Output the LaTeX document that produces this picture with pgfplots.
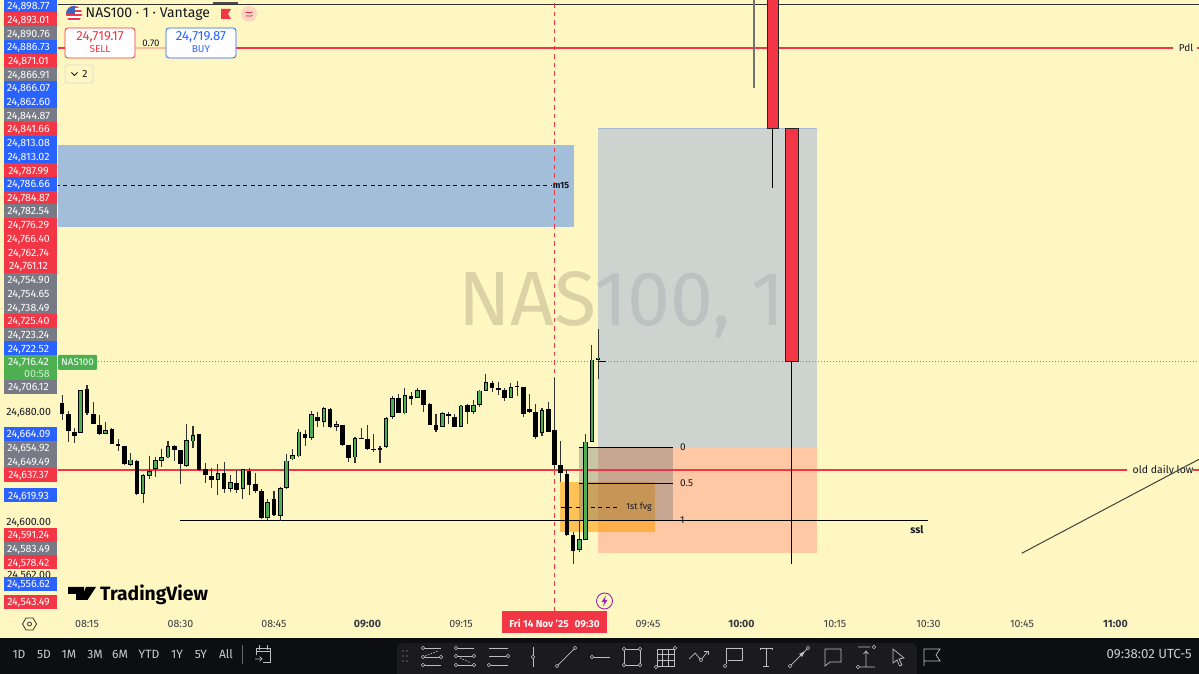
\documentclass[border=0pt]{standalone}
\usepackage{fontspec}
\usepackage{pgfplots}
\usepackage{pgfplotstable}
\pgfplotsset{compat=1.18}
\setmainfont{Fira Sans}

\definecolor{paper}{HTML}{FFF7C1}
\definecolor{tvred}{HTML}{F23645}
\definecolor{tvblue}{HTML}{2962FF}
\definecolor{tvgray}{HTML}{787B86}
\definecolor{tvgreen}{HTML}{4CAF50}
\definecolor{dotgreen}{HTML}{22C04A}
\definecolor{ink}{HTML}{131722}
\definecolor{barblack}{HTML}{0D0E10}
\definecolor{toolbar}{HTML}{1B1B1D}
\definecolor{iconc}{HTML}{BEBEBE}
\definecolor{zoneblue}{HTML}{A3BED8}
\definecolor{posgray}{HTML}{9DB2E0}
\definecolor{posorange}{HTML}{FF9B89}
\definecolor{postop}{HTML}{AAB9D2}
\definecolor{fvg}{HTML}{FF9800}
\definecolor{fibgray}{HTML}{5F6A70}
\definecolor{flagblue}{HTML}{3C64BE}
\definecolor{pinkc}{HTML}{FCD8C4}
\definecolor{spreadl}{HTML}{FABEA0}
\definecolor{purp}{HTML}{9C27B0}

% t = minutes since midnight, prices
\pgfplotstableread{
t o h l c
491 24686.1 24692.1 24673.9 24678.1
492 24678.3 24680.7 24658.2 24665.9
493 24665.5 24667.9 24657.0 24662.5
495 24696.2 24699.4 24677.6 24678.8
496 24678.3 24687.0 24670.8 24671.0
497 24670.5 24677.6 24663.0 24664.0
499 24667.4 24667.9 24656.2 24656.2
500 24656.5 24659.9 24651.6 24655.3
501 24654.8 24655.3 24641.5 24641.7
503 24644.4 24644.6 24619.2 24620.4
509 24654.8 24655.8 24643.9 24651.9
510 24651.9 24652.1 24627.4 24641.7
513 24663.5 24663.8 24637.1 24637.6
514 24638.1 24642.4 24627.9 24633.9
515 24633.5 24639.3 24624.2 24630.1
517 24635.4 24643.2 24621.1 24623.5
519 24628.4 24637.6 24621.1 24623.0
521 24636.9 24638.8 24619.6 24626.7
522 24627.2 24635.2 24621.1 24622.3
523 24622.6 24623.5 24602.2 24602.7
525 24616.2 24622.6 24604.1 24605.1
530 24663.5 24666.7 24655.0 24660.9
532 24676.1 24679.8 24669.1 24673.0
534 24681.9 24682.7 24667.9 24668.6
536 24670.3 24670.5 24655.0 24655.8
537 24655.5 24656.0 24643.6 24646.5
539 24661.1 24668.1 24659.9 24660.4
540 24660.4 24670.1 24652.1 24652.6
541 24652.9 24663.8 24650.7 24652.1
542 24653.3 24654.8 24642.9 24652.4
545 24690.0 24692.9 24679.3 24679.3
547 24691.7 24694.1 24684.9 24689.5
549 24695.5 24695.8 24680.0 24685.1
550 24685.4 24686.6 24670.3 24670.3
551 24670.6 24678.3 24665.5 24666.9
553 24678.3 24679.8 24670.8 24676.6
554 24676.4 24678.3 24669.1 24669.1
556 24684.6 24685.6 24670.8 24679.8
560 24701.1 24702.1 24694.6 24697.2
561 24697.2 24701.4 24691.9 24695.8
562 24696.0 24697.5 24687.5 24690.2
564 24698.5 24702.1 24691.7 24697.7
565 24698.0 24698.2 24676.4 24678.3
566 24682.0 24692.6 24679.3 24679.8
567 24679.5 24685.4 24660.4 24661.4
569 24682.0 24687.3 24665.5 24665.5
570 24666.7 24704.3 24638.1 24641.5
571 24641.2 24658.7 24629.1 24635.2
572 24634.7 24637.6 24589.6 24590.1
573 24590.1 24592.8 24569.3 24579.0
}\downcandles

\pgfplotstableread{
t o h l c
494 24664.7 24695.8 24664.2 24695.8
498 24664.0 24672.5 24663.8 24666.7
502 24641.5 24649.7 24640.7 24645.1
504 24620.4 24634.7 24613.8 24633.9
505 24633.2 24647.8 24631.3 24636.9
506 24638.1 24646.8 24632.7 24644.9
507 24644.1 24652.6 24640.0 24646.8
508 24646.8 24658.7 24646.5 24655.0
511 24640.5 24670.8 24640.0 24659.6
512 24658.4 24669.6 24653.8 24662.8
516 24630.1 24641.7 24619.6 24635.2
518 24623.8 24633.9 24621.3 24628.9
520 24623.8 24638.1 24616.7 24638.1
524 24602.9 24616.2 24601.2 24614.3
526 24604.4 24625.5 24600.7 24624.7
527 24624.5 24649.2 24623.5 24644.4
528 24645.3 24652.9 24644.9 24648.2
529 24647.5 24667.2 24647.3 24665.5
531 24660.9 24680.2 24659.4 24678.1
533 24672.7 24683.2 24669.1 24682.7
535 24669.1 24673.2 24666.2 24670.8
538 24646.8 24661.3 24642.4 24660.9
543 24654.1 24675.9 24653.6 24675.6
544 24676.1 24691.4 24674.5 24689.7
546 24678.8 24697.0 24678.6 24692.1
548 24690.2 24697.0 24690.2 24695.5
552 24669.1 24680.0 24668.9 24678.8
555 24669.1 24684.9 24669.1 24684.4
557 24679.8 24688.5 24678.6 24684.6
558 24685.1 24695.5 24683.7 24695.3
559 24695.3 24707.2 24695.3 24701.8
563 24690.2 24701.1 24690.0 24697.7
568 24664.8 24682.5 24662.3 24681.2
574 24579.4 24601.3 24577.7 24587.4
575 24586.7 24663.8 24586.7 24658.2
576 24658.2 24728.5 24658.2 24717.9
577 24717.9 24739.9 24703.6 24719.3
}\upcandles

\pgfplotsset{
  vbar/.style 2 args={forget plot, draw=none, mark=none,
    error bars/y dir=minus, error bars/y explicit, error bars/error mark=none,
    error bars/error bar style={line width=#1, draw=#2, solid}},
}

\newcommand\fs[1]{\fontsize{#1}{#1}\selectfont}
\newcommand\lbl[3]{\fill[#3] (4,#1-7) rectangle (57,#1+7);
  \node[text=white,inner sep=0] at (28.5,#1+1) {\fs{10.6}#2};}

\begin{document}
\begin{tikzpicture}
\path[use as bounding box,clip] (0,0) rectangle (1199pt,674pt);
\fill[paper] (0,0) rectangle (1199pt,674pt);

\begin{axis}[
  at={(58pt,63pt)}, anchor=south west, scale only axis,
  width=1141pt, height=611pt,
  xmin=490.35, xmax=673.4, ymin=24535.05, ymax=24979.4,
  axis line style={draw=none}, major tick length=0pt,
  xtick={495,510,525,540,555,570,585,600,615,630,645,660},
  xticklabels={08:15,08:30,08:45,\bfseries 09:00,09:15,,09:45,\bfseries 10:00,10:15,10:30,10:45,\bfseries 11:00},
  xticklabel style={font=\fs{10.6},text=ink!85,yshift=-5.5pt},
  ytick={24562,24600,24680},
  yticklabel style={font=\fs{10.6},text=ink,xshift=-3.5pt,yshift=-1.5pt,
    /pgf/number format/fixed, /pgf/number format/fixed zerofill,
    /pgf/number format/precision=2, /pgf/number format/1000 sep={,},
    /pgf/number format/assume math mode=true},
  scaled y ticks=false,
]
% watermark sits under the boxes
\node[anchor=west,inner sep=0,text=black!40!paper,opacity=.36] at (axis cs:554.5,24757.6) {\fs{77}NAS100, 1};

% m15 zone
\addplot[draw=none,fill=zoneblue] coordinates {(490.0,24874)(573.1,24874)(573.1,24814.3)(490.0,24814.3)} --cycle;
\addplot[black,line width=.8pt,dash pattern=on 4pt off 3.5pt] coordinates {(490.0,24844.5)(569.5,24844.5)};

% position tool boxes
\addplot[draw=none,fill=posgray,fill opacity=.5] coordinates {(577,24886.3)(612.1,24886.3)(612.1,24654.3)(577,24654.3)} --cycle;
\addplot[draw=none,fill=posorange,fill opacity=.5] coordinates {(577,24654.3)(612.1,24654.3)(612.1,24577.2)(577,24577.2)} --cycle;
\addplot[postop,line width=.8pt] coordinates {(577,24886.3)(612.1,24886.3)};

% 1st fvg and fib
\addplot[draw=none,fill=fvg,fill opacity=.55] coordinates {(570.9,24628.9)(586.1,24628.9)(586.1,24592.5)(570.9,24592.5)} --cycle;
\addplot[draw=none,fill=fibgray,fill opacity=.35] coordinates {(573.9,24654.3)(589,24654.3)(589,24601.2)(573.9,24601.2)} --cycle;
\addplot[black,line width=.9pt] coordinates {(573.9,24654.3)(589,24654.3)};
\addplot[black,line width=.9pt] coordinates {(573.9,24628.1)(589,24628.1)};
\addplot[black,line width=.9pt] coordinates {(509.9,24601.2)(629.9,24601.2)};
\addplot[black,line width=.8pt,dash pattern=on 4pt off 3.5pt] coordinates {(571,24610.7)(580.5,24610.7)};

% levels
\addplot[black!80,line width=.9pt] coordinates {(490,24976.5)(674,24976.5)};
\addplot[black!70,line width=1.8pt] coordinates {(515.2,24977)(519.2,24977)};
\addplot[tvred,line width=1.5pt] coordinates {(490,24944.5)(674,24944.5)};
\addplot[tvred,line width=1.9pt] coordinates {(490,24637.37)(674,24637.37)};
\addplot[tvred,line width=.9pt,dash pattern=on 4.5pt off 4pt] coordinates {(570,24535)(570,24980)};
\addplot[dotgreen,line width=1pt,dash pattern=on 1pt off 2pt] coordinates {(490,24716.42)(674,24716.42)};

% candles
\addplot[vbar={1.1pt}{black!80}] table[x=t,y=h,y error minus expr=\thisrow{h}-\thisrow{l}] {\downcandles};
\addplot[vbar={1.1pt}{black!80}] table[x=t,y=h,y error minus expr=\thisrow{h}-\thisrow{l}] {\upcandles};
\addplot[vbar={4.6pt}{black}] table[x=t,y=o,y error minus expr=\thisrow{o}-\thisrow{c}] {\downcandles};
\addplot[vbar={4.6pt}{black}] table[x=t,y=c,y error minus expr=\thisrow{c}-\thisrow{o}] {\upcandles};
\addplot[vbar={2.6pt}{tvgreen}] table[x=t,y expr=\thisrow{c}-0.6,y error minus expr=\thisrow{c}-\thisrow{o}-1.2] {\upcandles};
\addplot[black,line width=1pt] coordinates {(577,24716.42)(578.3,24716.42)};

% drawn projection candles
\addplot[black!55,line width=1.5pt] coordinates {(602,24990)(602,24915.7)};
\addplot[black,line width=.9pt] coordinates {(604.9,24886.3)(604.9,24842.7)};
\addplot[fill=tvred,draw=black!85,line width=.9pt] coordinates {(604.1,24990)(605.86,24990)(605.86,24886.3)(604.1,24886.3)} --cycle;
\addplot[black,line width=.9pt] coordinates {(608,24716.4)(608,24569.2)};
\addplot[fill=tvred,draw=black!85,line width=.9pt] coordinates {(607,24886.3)(609.07,24886.3)(609.07,24716.4)(607,24716.4)} --cycle;
\end{axis}

\begin{scope}[x=1pt,y=-1pt,shift={(0,-674)}]
% gaps and line labels
\fill[paper] (1173,41) rectangle (1197,55);
\node[text=ink,inner sep=0] at (1186,48) {\fs{10}Pdl};
\fill[paper] (1127,464) rectangle (1193,478);
\node[text=ink,inner sep=0] at (1163,471) {\fs{10.5}old daily low};
\node[text=ink,inner sep=0] at (917,530) {\fs{10.5}\bfseries ssl};
\node[text=ink,inner sep=0] at (561,186) {\fs{9}\bfseries m15};
\node[text=ink,inner sep=0] at (639,507) {\fs{8.8}1st fvg};
\node[text=ink,anchor=west,inner sep=0] at (680,447.5) {\fs{10}0};
\node[text=ink,anchor=west,inner sep=0] at (680,483) {\fs{10}0.5};
\node[text=ink,anchor=west,inner sep=0] at (680,520) {\fs{10}1};

% price scale stack
\lbl{6}{24,898.77}{tvblue}
\lbl{19.5}{24,893.01}{tvred}
\lbl{33.5}{24,890.76}{tvgray}
\lbl{47}{24,886.73}{tvblue}
\lbl{61}{24,871.01}{tvred}
\lbl{74.5}{24,866.91}{tvgray}
\lbl{88}{24,866.07}{tvblue}
\lbl{102}{24,862.60}{tvblue}
\lbl{115.5}{24,844.87}{tvgray}
\lbl{129}{24,841.66}{tvred}
\lbl{143}{24,813.08}{tvblue}
\lbl{157}{24,813.02}{tvblue}
\lbl{170.5}{24,787.99}{tvred}
\lbl{184}{24,786.66}{tvblue}
\lbl{198}{24,784.87}{tvred}
\lbl{211}{24,782.54}{tvgray}
\lbl{225}{24,776.29}{tvred}
\lbl{239}{24,766.40}{tvred}
\lbl{252.5}{24,762.74}{tvred}
\lbl{266}{24,761.12}{tvred}
\lbl{280}{24,754.90}{tvgray}
\lbl{293.5}{24,754.65}{tvgray}
\lbl{307.5}{24,738.49}{tvgray}
\lbl{321}{24,725.40}{tvred}
\lbl{335}{24,723.24}{tvgray}
\lbl{348.5}{24,722.52}{tvblue}
\fill[tvgreen] (4,355) rectangle (57,381);
\node[text=white,inner sep=0] at (28.5,363) {\fs{10.6}24,716.42};
\node[text=white!75!tvgreen,anchor=east,inner sep=0] at (50,374) {\fs{10.6}00:58};
\lbl{387}{24,706.12}{tvgray}
\fill[tvgreen,rounded corners=1pt] (58,355) rectangle (97,370);
\node[text=white,inner sep=0] at (77.5,362.5) {\fs{9.8}NAS100};
\lbl{434}{24,664.09}{tvblue}
\lbl{448}{24,654.92}{tvgray}
\lbl{461.5}{24,649.49}{tvgray}
\lbl{475}{24,637.37}{tvred}
\lbl{495.5}{24,619.93}{tvblue}
\lbl{535}{24,591.24}{tvred}
\lbl{549}{24,583.49}{tvgray}
\lbl{562.5}{24,578.42}{tvred}
\lbl{584}{24,556.62}{tvblue}
\lbl{602}{24,543.49}{tvred}

% diagonal trend line crosses the old daily low label
\draw[black!75,line width=1pt] (1021.7,553.3) -- (1199,459.3);

% header
\begin{scope}
\clip (74,14) circle (8pt);
\fill[white] (64,4) rectangle (84,24);
\foreach \yy in {6,10,14,18,22}{\fill[tvred] (64,\yy) rectangle (84,\yy+1.8);}
\fill[flagblue] (64,4) rectangle (75,14);
\end{scope}
\node[text=ink,anchor=west,inner sep=0] at (85.5,14.5) {\fs{14}NAS100 · 1 · Vantage};
\fill[tvred] (221,9) -- (231,9) -- (228,14) -- (231,19) -- (221,19) -- cycle;
\fill[pinkc] (249,14) circle (8pt);
\draw[tvred,line width=.9pt] (245.5,12.5) .. controls (247,11) and (249,14) .. (252.5,12);
\draw[tvred,line width=.9pt] (245.5,16) .. controls (247,14.5) and (249,17.5) .. (252.5,15.5);
\draw[spreadl,line width=1.2pt] (135,48) -- (166,48);
\node[text=ink,inner sep=0] at (151,43) {\fs{9.6}0.70};
\draw[tvred,fill=white,rounded corners=3pt,line width=.8pt] (65,28) rectangle (135,58);
\node[text=tvred,inner sep=0] at (100,37) {\fs{13.2}24,719.17};
\node[text=tvred,inner sep=0] at (100,49.5) {\fs{10}SELL};
\draw[tvblue,fill=white,rounded corners=3pt,line width=.8pt] (166,28) rectangle (236,58);
\node[text=tvblue,inner sep=0] at (201,37) {\fs{13.2}24,719.87};
\node[text=tvblue,inner sep=0] at (201,49.5) {\fs{10}BUY};
\draw[black!15,fill=paper,rounded corners=2pt,line width=.8pt] (65,65) rectangle (93,83);
\draw[ink,line width=.8pt] (71.5,72.5) -- (74.5,75.5) -- (77.5,72.5);
\node[text=ink,inner sep=0] at (85,73.5) {\fs{10.5}2};

% TradingView mark
\fill[black] (68,587) -- (84,587) -- (84,600) -- (76,600) -- (76,594) -- (68,594) -- cycle;
\fill[black] (88.5,590) circle (3pt);
\fill[black] (87.5,600) -- (80.5,600) -- (86,587) -- (96,587) -- cycle;
\node[text=black,anchor=west,inner sep=0] at (100,594.5) {\fs{19.3}\bfseries TradingView};

% time scale extras
\fill[tvred] (502,611) rectangle (607,633);
\node[text=white,inner sep=0] at (554.5,623.5) {\fs{10}\bfseries Fri 14 Nov '25\hspace{6pt}09:30};
\draw[purp,fill=paper,line width=.9pt] (604.5,601) circle (8pt);
\fill[purp] (606,595.5) -- (601.5,602) -- (604.2,602) -- (603,606.5) -- (607.5,600) -- (604.8,600) -- cycle;
\draw[black!80,line width=.8pt] (22.5,624) -- (26,618) -- (33,618) -- (36.5,624) -- (33,630) -- (26,630) -- cycle;
\draw[black!80,line width=.8pt] (29.5,624) circle (2pt);

% bottom bar
\fill[barblack] (0,638) rectangle (1199,674);
\foreach \xx/\tt in {19/1D,44/5D,69/1M,95/3M,120/6M,149/YTD,177/1Y,201/5Y,226/All}
  {\node[text=white!80!black,inner sep=0] at (\xx,654.5) {\fs{12}\tt};}
\draw[white!40!black,line width=.7pt] (242.5,645) -- (242.5,664);
\begin{scope}[iconc,line width=.7pt,shift={(263,654)}]
\draw (-7,1) -- (-7,-6) -- (7,-6) -- (7,8) -- (0,8);
\draw (-4,-9) -- (-4,-4) (4,-9) -- (4,-4) (-7,-2.5) -- (7,-2.5);
\draw (-8,5) -- (-1,5) (-3.5,2.5) -- (-1,5) -- (-3.5,7.5);
\end{scope}

% drawing toolbar
\fill[toolbar,rounded corners=6pt] (397,643) rectangle (917,690);
\foreach \xx in {403,407}{\foreach \yy in {651,656,661}{\fill[white!40!black] (\xx,\yy) circle (.9pt);}}
\tikzset{ic/.style={iconc,line width=.7pt}, dot/.style={draw=iconc,line width=.6pt,fill=toolbar}}
\newcommand\dt[2]{\draw[dot] (#1,#2) circle (1.7pt);}
\begin{scope}[ic,shift={(432,657)}]
 \draw (-8,-9) -- (9,-9) (-8,0) -- (9,0) (-8,8) -- (9,8);
 \draw[dash pattern=on 1.5pt off 1.5pt] (-7,-1) -- (6,-6);
 \dt{-9}{-9}\dt{-9}{0}\dt{9}{0}\dt{-9}{8}
\end{scope}
\begin{scope}[ic,shift={(465,657)}]
 \draw (-8,-9) -- (9,-9) (-8,-1) -- (9,-1) (-8,8) -- (9,8);
 \draw[dash pattern=on 1.5pt off 1.5pt] (-5,1) -- (6,6);
 \dt{-9}{-9}\dt{-9}{-1}\dt{9}{-1}\dt{9}{8}\dt{-9}{8}
\end{scope}
\begin{scope}[ic,shift={(498,657)}]
 \draw (-9,-9) -- (10,-9) (-9,-1) -- (8,-1) (-7,8) -- (10,8);
 \dt{10}{-1}\dt{-9}{8}
\end{scope}
\begin{scope}[ic,shift={(533,657)}]
 \draw (0,-10) -- (0,10); \dt{0}{0}
\end{scope}
\begin{scope}[ic,shift={(566,657)}]
 \draw (-8,8) -- (8,-8); \dt{-9}{9}\dt{9}{-9}
\end{scope}
\begin{scope}[ic,shift={(600,657)}]
 \draw (-7,0) -- (10,0); \dt{-8}{0}
\end{scope}
\begin{scope}[ic,shift={(632,657)}]
 \draw (-8,-8) rectangle (8,8); \dt{-8}{-8}\dt{8}{-8}\dt{-8}{8}\dt{8}{8}
\end{scope}
\begin{scope}[ic,shift={(665,657)}]
 \draw (-8,-8) rectangle (9,9); \draw (-8,-3) -- (9,-3) (-8,3) -- (9,3) (-2.5,-8) -- (-2.5,9) (3,-8) -- (3,9);
 \dt{10}{-9}\dt{-9}{10}
\end{scope}
\begin{scope}[ic,shift={(699,657)}]
 \draw (-10,2) -- (-4,-4) -- (2,3) -- (9,-6); \draw (5,-6) -- (9,-6) -- (9,-2); \dt{2}{3}
\end{scope}
\begin{scope}[ic,shift={(733,657)}]
 \draw (-7,7) -- (-7,-9) -- (9,-9) -- (9,3) -- (-5,3); \dt{-8}{9}
\end{scope}
\begin{scope}[ic,shift={(766,657)}]
 \draw (-6,-7) -- (-6,-9) -- (6,-9) -- (6,-7) (0,-9) -- (0,9) (-3,9) -- (3,9);
\end{scope}
\begin{scope}[ic,shift={(799,657)}]
 \draw (-8,8) -- (8,-8); \fill[iconc] (6,-6) -- (0,-3) -- (3,0) -- cycle; \dt{-9}{9}\dt{9}{-9}
\end{scope}
\begin{scope}[ic,shift={(833,657)}]
 \draw (-8,-8) -- (8,-8) -- (8,5) -- (-3,5) -- (-8,9) -- cycle;
\end{scope}
\begin{scope}[ic,shift={(866,657)}]
 \draw (-8,-10) -- (4,-10) (-6,10) -- (9,10) (0,-5) -- (0,10) (-2.5,-3) -- (0,-6) -- (2.5,-3); \dt{8}{-10}\dt{-8}{10}
\end{scope}
\begin{scope}[ic,shift={(898,657)}]
 \draw (-5,-8) -- (6,1) -- (1,2) -- (4,8) -- (1.5,9) -- (-1,3) -- (-5,6) -- cycle;
\end{scope}
\begin{scope}[ic,shift={(932,657)}]
 \draw (-8,9) -- (-8,-8) -- (8,-8) -- (4,-2) -- (8,4) -- (-8,4);
\end{scope}
\node[text=white!80!black,anchor=east,inner sep=0] at (1192,654.5) {\fs{13.2}09:38:02 UTC-5};
\end{scope}
\end{tikzpicture}
\end{document}
